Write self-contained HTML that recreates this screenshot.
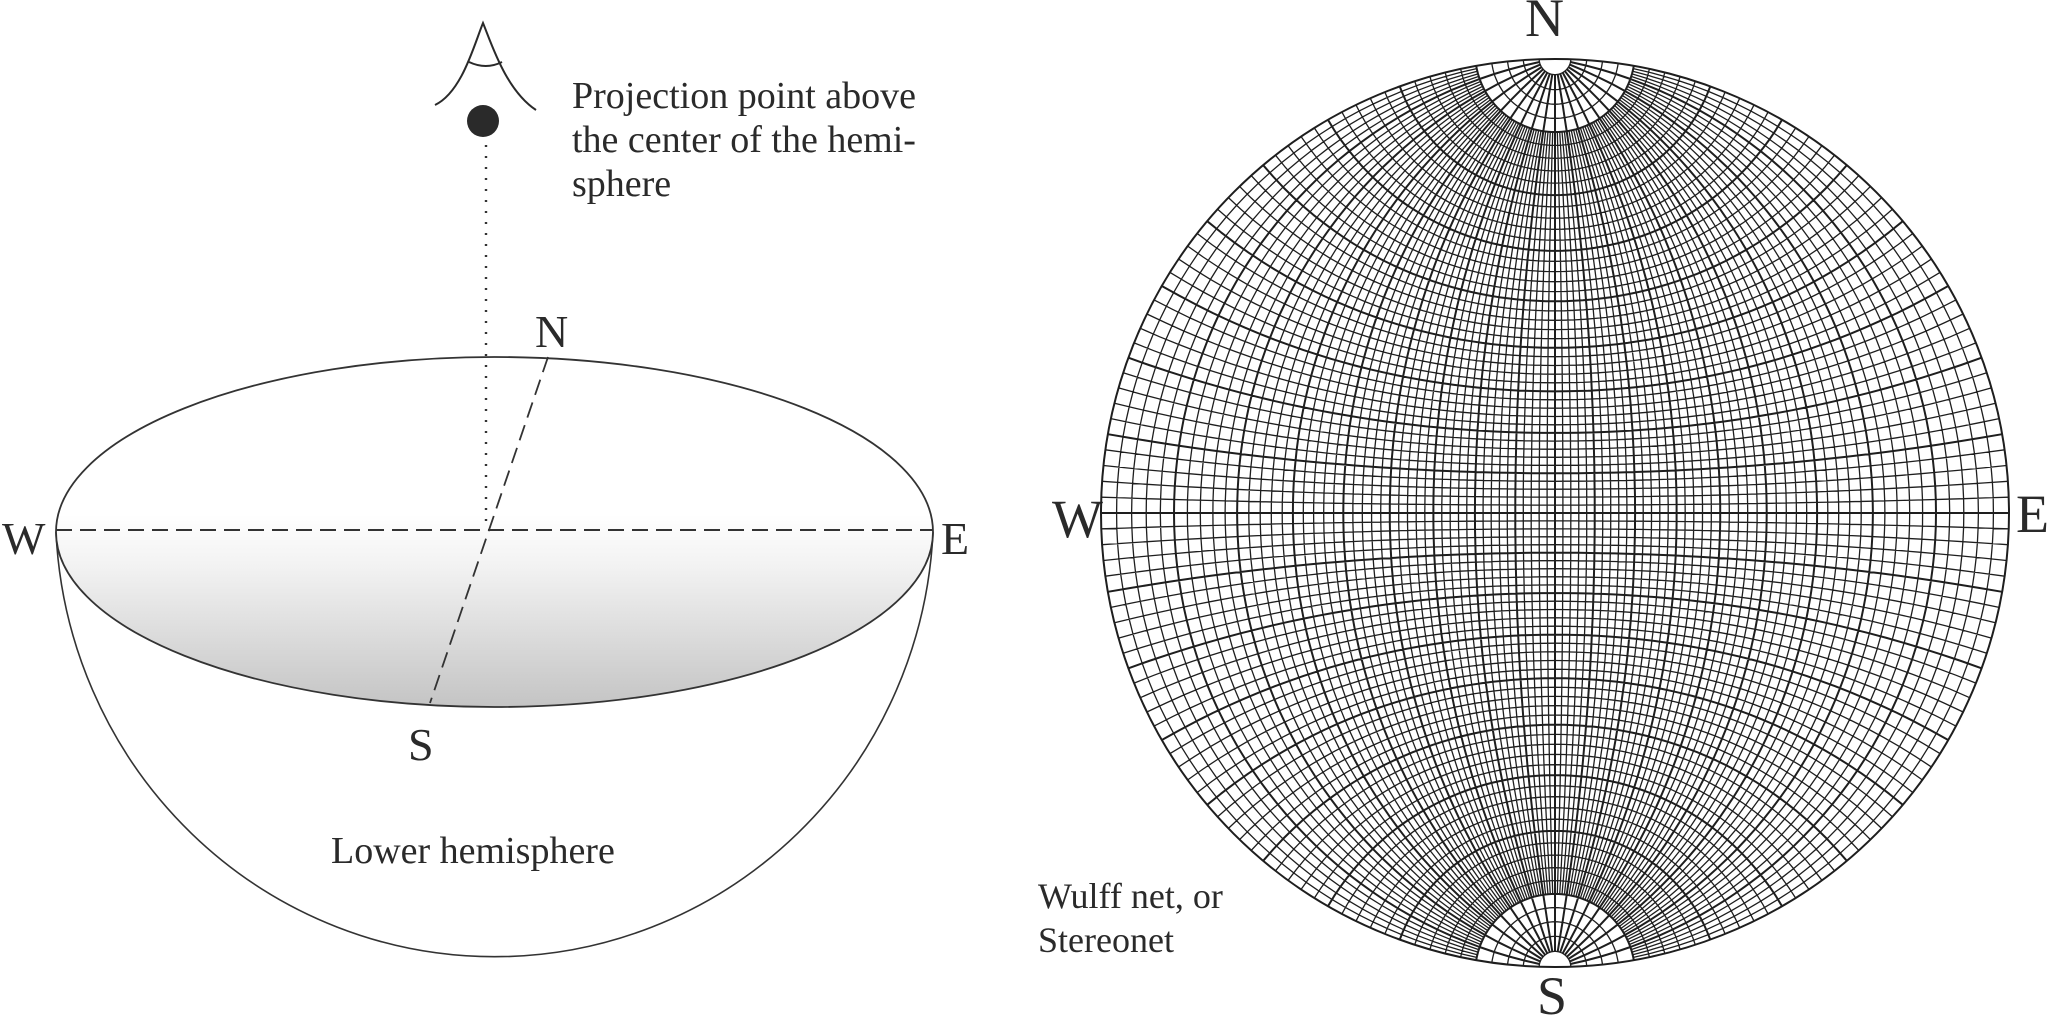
<!DOCTYPE html>
<html><head><meta charset="utf-8">
<style>
html,body{margin:0;padding:0;background:#fff;}
svg{display:block;}
text{font-family:"Liberation Serif",serif;fill:#2a2a2a;}
</style></head>
<body>
<svg id="s" width="2048" height="1016" viewBox="0 0 2048 1016" xmlns="http://www.w3.org/2000/svg">
<defs>
<linearGradient id="g" x1="0" y1="0" x2="0" y2="1">
<stop offset="0" stop-color="#ffffff"/>
<stop offset="0.45" stop-color="#ffffff"/>
<stop offset="0.6" stop-color="#f2f2f2"/>
<stop offset="1" stop-color="#c4c4c4"/>
</linearGradient>
</defs>
<!-- left hemisphere -->
<path d="M56,532 A439,446 0 0 0 933,532" fill="none" stroke="#333" stroke-width="1.6"/>
<ellipse cx="494.5" cy="532" rx="438.5" ry="175" fill="url(#g)" stroke="#333" stroke-width="1.8"/>
<line x1="56" y1="530" x2="933" y2="530" stroke="#333" stroke-width="2" stroke-dasharray="16,8"/>
<line x1="548" y1="357" x2="430" y2="703" stroke="#333" stroke-width="1.8" stroke-dasharray="16,8"/>
<line x1="486" y1="145" x2="486" y2="530" stroke="#333" stroke-width="2.4" stroke-dasharray="2,9"/>
<circle cx="483" cy="121" r="16" fill="#2a2a2a"/>
<path d="M435,105 C462,92 474,45 483,23 C492,45 506,90 536,110" fill="none" stroke="#2a2a2a" stroke-width="2"/>
<path d="M469,62 Q486,70 502,62" fill="none" stroke="#2a2a2a" stroke-width="2"/>
<text x="572" y="108" font-size="38">Projection point above</text>
<text x="572" y="152" font-size="38">the center of the hemi-</text>
<text x="572" y="196" font-size="38">sphere</text>
<text x="535" y="347" font-size="46">N</text>
<text x="2" y="554" font-size="46">W</text>
<text x="941" y="554" font-size="46">E</text>
<text x="408" y="760" font-size="46">S</text>
<text x="331" y="863" font-size="38">Lower hemisphere</text>
<!-- right net labels -->
<text x="1525" y="36" font-size="54">N</text>
<text x="1052" y="537" font-size="54">W</text>
<text x="2016" y="532" font-size="54">E</text>
<text x="1537" y="1014" font-size="54">S</text>
<text x="1038" y="908" font-size="36">Wulff net, or</text>
<text x="1038" y="952" font-size="36">Stereonet</text>
<g id="net" fill="none" stroke="#1e1e1e" stroke-linejoin="round"></g>
<circle cx="1555" cy="513" r="454" fill="none" stroke="#1e1e1e" stroke-width="2"/>
</svg>
<script>
(function(){
var CX=1555,CY=513,R=454,D=Math.PI/180;
var g=document.getElementById('net');var thin='',thick='';
function proj(x,y,z){var k=R/(1+Math.abs(z));return [CX+x*k,CY-y*k];}
function pl(pts){var s='M'+pts[0][0].toFixed(1)+','+pts[0][1].toFixed(1);for(var i=1;i<pts.length;i++)s+='L'+pts[i][0].toFixed(1)+','+pts[i][1].toFixed(1);return s;}
for(var f=-88;f<=88;f+=2){
 var heavy=(f%10===0);var t0=heavy?2:10,t1=heavy?178:170;var pts=[];
 var dx=Math.sin(f*D),dz=-Math.cos(f*D);
 for(var t=t0;t<=t1;t+=2){var c=Math.cos(t*D),s=Math.sin(t*D);pts.push(proj(s*dx,c,s*dz));}
 if(heavy)thick+=pl(pts);else thin+=pl(pts);
}
for(var a=2;a<=178;a+=2){
 var heavy=(a%10===0);var pts=[];var ca=Math.cos(a*D),sa=Math.sin(a*D);
 for(var s=-90;s<=90;s+=3){pts.push(proj(sa*Math.sin(s*D),ca,-sa*Math.cos(s*D)));}
 if(heavy)thick+=pl(pts);else thin+=pl(pts);
}
var ns='http://www.w3.org/2000/svg';
var p1=document.createElementNS(ns,'path');p1.setAttribute('d',thin);p1.setAttribute('stroke-width','1.3');g.appendChild(p1);
var p2=document.createElementNS(ns,'path');p2.setAttribute('d',thick);p2.setAttribute('stroke-width','2');g.appendChild(p2);
})();
</script>
</body></html>
